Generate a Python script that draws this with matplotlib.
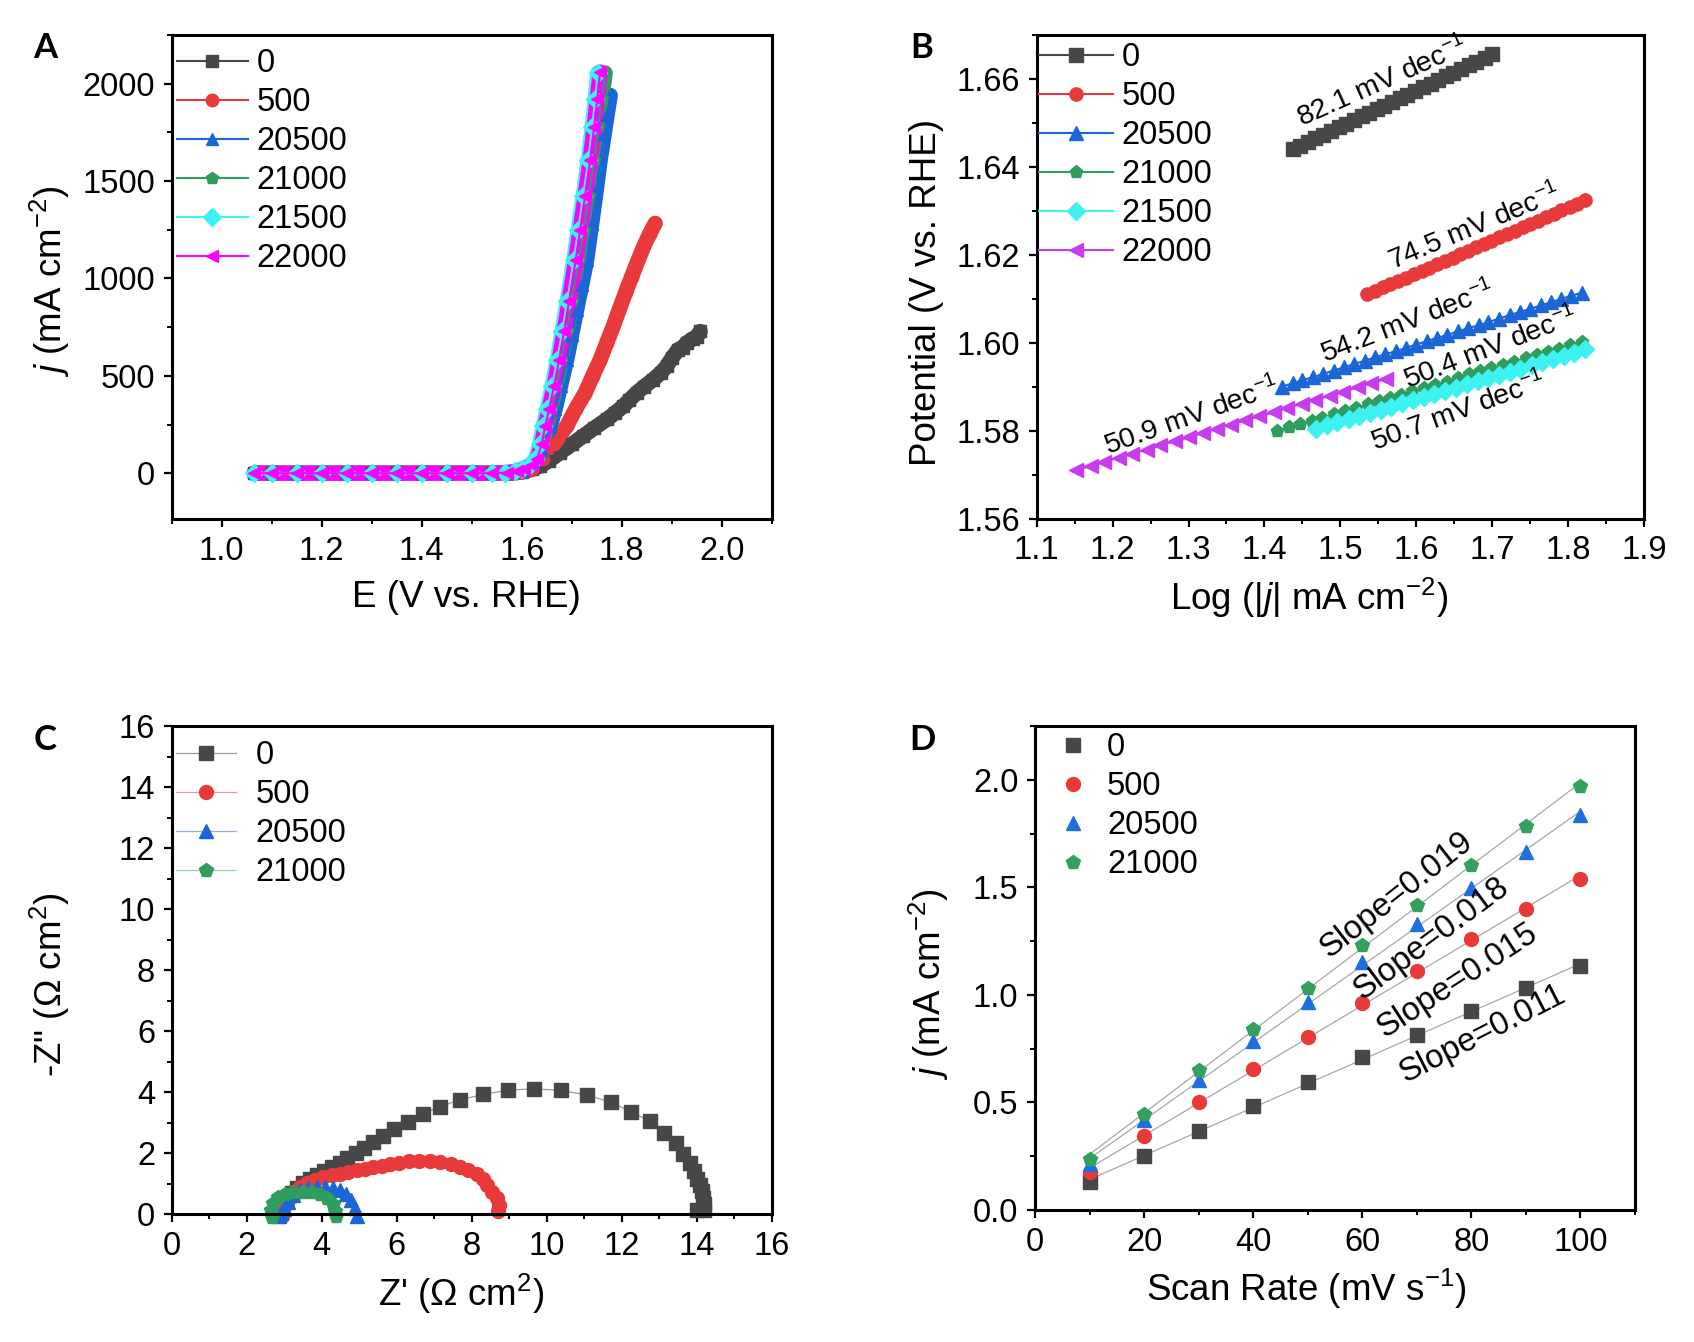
import numpy as np
import matplotlib
matplotlib.use('Agg')
import matplotlib.pyplot as plt
from matplotlib.ticker import MultipleLocator

plt.rcParams['font.family'] = ['Liberation Sans', 'DejaVu Sans']
plt.rcParams['mathtext.fontset'] = 'custom'
plt.rcParams['mathtext.rm'] = 'Liberation Sans'
plt.rcParams['mathtext.it'] = 'Liberation Sans:italic'
plt.rcParams['mathtext.bf'] = 'Liberation Sans:bold'

# ---------------- data ----------------
labels6 = ['0', '500', '20500', '21000', '21500', '22000']
labels4 = ['0', '500', '20500', '21000']

# Panel A : LSV curves (E in V vs RHE, j in mA cm-2)
flatE = [1.065, 1.10, 1.15, 1.20, 1.25, 1.30, 1.35, 1.40, 1.45, 1.50, 1.54]
flatJ = [0, 0, 0, 0, 0, 0, 0, 0, 0, 0, 0]

E_0 = [1.58, 1.60, 1.62, 1.637, 1.655, 1.677, 1.700, 1.723, 1.745, 1.770, 1.787, 1.803,
       1.815, 1.830, 1.845, 1.863, 1.878, 1.890, 1.900, 1.913, 1.922, 1.930, 1.942, 1.950, 1.957]
J_0 = [2, 8, 20, 37, 65, 106, 148, 191, 232, 276, 310, 344,
       375, 413, 445, 481, 515, 549, 590, 635, 645, 669, 690, 700, 728]
E_500 = [1.58, 1.60, 1.62, 1.643, 1.665, 1.690, 1.708, 1.727, 1.742, 1.757, 1.770, 1.783,
         1.795, 1.808, 1.820, 1.833, 1.845, 1.856, 1.867]
J_500 = [2, 5, 20, 72, 150, 242, 330, 413, 500, 583, 670, 754,
         840, 930, 1010, 1095, 1170, 1230, 1283]
E_20500 = [1.58, 1.60, 1.62, 1.64, 1.657, 1.667, 1.678, 1.690, 1.700, 1.710, 1.720, 1.730,
           1.740, 1.749, 1.757, 1.765, 1.771, 1.777]
J_20500 = [3, 12, 40, 120, 242, 330, 450, 583, 710, 840, 965, 1095,
           1280, 1450, 1607, 1740, 1840, 1940]
E_21000 = [1.573, 1.593, 1.608, 1.623, 1.634, 1.643, 1.650, 1.658, 1.669, 1.679, 1.690, 1.700,
           1.714, 1.724, 1.734, 1.745, 1.753, 1.760, 1.767]
J_21000 = [3, 10, 22, 40, 72, 150, 242, 330, 450, 583, 730, 885,
           1095, 1250, 1425, 1607, 1780, 1920, 2055]
E_21500 = [1.566, 1.586, 1.601, 1.616, 1.627, 1.636, 1.643, 1.651, 1.661, 1.671, 1.681, 1.691,
           1.704, 1.713, 1.723, 1.733, 1.741, 1.747, 1.752]
J_21500 = [3, 10, 22, 40, 72, 150, 242, 330, 450, 583, 730, 885,
           1095, 1250, 1425, 1607, 1780, 1920, 2055]
E_22000 = [1.57, 1.59, 1.605, 1.62, 1.631, 1.64, 1.647, 1.655, 1.665, 1.675, 1.685, 1.695,
           1.708, 1.717, 1.727, 1.737, 1.745, 1.751, 1.757]
J_22000 = [3, 10, 22, 40, 72, 150, 242, 330, 450, 583, 730, 885,
           1095, 1250, 1425, 1607, 1780, 1920, 2060]

# Panel B : Tafel plots (log j, potential)
logj_0 = [1.437, 1.447, 1.457, 1.467, 1.477, 1.488, 1.498, 1.508, 1.518, 1.528, 1.538, 1.548, 1.558, 1.568,
          1.578, 1.588, 1.598, 1.609, 1.619, 1.629, 1.639, 1.649, 1.659, 1.669, 1.679, 1.690, 1.700]
pot_0 = [1.6440, 1.6448, 1.6456, 1.6465, 1.6473, 1.6482, 1.6490, 1.6498, 1.6507, 1.6515, 1.6523, 1.6531,
         1.6539, 1.6548, 1.6556, 1.6564, 1.6572, 1.6581, 1.6589, 1.6598, 1.6606, 1.6614, 1.6622, 1.6631,
         1.6639, 1.6648, 1.6656]
logj_500 = [1.535, 1.545, 1.556, 1.566, 1.576, 1.586, 1.597, 1.607, 1.617, 1.627, 1.638, 1.648, 1.658, 1.668,
            1.679, 1.689, 1.699, 1.709, 1.720, 1.730, 1.740, 1.750, 1.761, 1.771, 1.781, 1.791, 1.802, 1.812, 1.822]
pot_500 = [1.6110, 1.6118, 1.6126, 1.6133, 1.6141, 1.6148, 1.6156, 1.6164, 1.6171, 1.6179, 1.6187, 1.6194,
           1.6202, 1.6209, 1.6217, 1.6225, 1.6232, 1.6240, 1.6248, 1.6255, 1.6263, 1.6270, 1.6278, 1.6286,
           1.6293, 1.6301, 1.6309, 1.6316, 1.6324]
logj_20500 = [1.423, 1.437, 1.450, 1.464, 1.477, 1.491, 1.505, 1.518, 1.532, 1.546, 1.559, 1.573, 1.586, 1.600,
              1.614, 1.627, 1.641, 1.655, 1.668, 1.682, 1.695, 1.709, 1.723, 1.736, 1.750, 1.764, 1.777, 1.791,
              1.804, 1.818]
pot_20500 = [1.5900, 1.5908, 1.5915, 1.5922, 1.5929, 1.5937, 1.5944, 1.5952, 1.5959, 1.5967, 1.5974, 1.5981,
             1.5988, 1.5996, 1.6004, 1.6011, 1.6018, 1.6026, 1.6033, 1.6040, 1.6047, 1.6055, 1.6063, 1.6070,
             1.6077, 1.6085, 1.6092, 1.6100, 1.6107, 1.6114]
logj_21000 = [1.417, 1.432, 1.447, 1.462, 1.476, 1.491, 1.506, 1.521, 1.536, 1.551, 1.566, 1.580, 1.595, 1.610,
              1.625, 1.640, 1.655, 1.670, 1.684, 1.699, 1.714, 1.729, 1.744, 1.759, 1.774, 1.788, 1.803, 1.818]
pot_21000 = [1.5800, 1.5808, 1.5815, 1.5823, 1.5830, 1.5837, 1.5845, 1.5852, 1.5860, 1.5868, 1.5875, 1.5882,
             1.5890, 1.5897, 1.5905, 1.5912, 1.5920, 1.5928, 1.5935, 1.5942, 1.5950, 1.5957, 1.5965, 1.5972,
             1.5980, 1.5987, 1.5995, 1.6002]
logj_21500 = [1.468, 1.482, 1.496, 1.511, 1.525, 1.539, 1.553, 1.567, 1.581, 1.596, 1.610, 1.624, 1.638, 1.652,
              1.667, 1.681, 1.695, 1.709, 1.723, 1.737, 1.752, 1.766, 1.780, 1.794, 1.808, 1.822]
pot_21500 = [1.5805, 1.5812, 1.5819, 1.5827, 1.5834, 1.5841, 1.5848, 1.5855, 1.5862, 1.5870, 1.5877, 1.5884,
             1.5891, 1.5898, 1.5906, 1.5913, 1.5920, 1.5927, 1.5934, 1.5941, 1.5949, 1.5956, 1.5963, 1.5970,
             1.5977, 1.5985]
logj_22000 = [1.152, 1.171, 1.189, 1.208, 1.226, 1.245, 1.263, 1.282, 1.300, 1.319, 1.338, 1.356, 1.375, 1.393,
              1.412, 1.430, 1.449, 1.467, 1.486, 1.504, 1.523, 1.541, 1.560]
pot_22000 = [1.5710, 1.5720, 1.5729, 1.5739, 1.5748, 1.5757, 1.5767, 1.5776, 1.5785, 1.5795, 1.5805, 1.5814,
             1.5824, 1.5833, 1.5842, 1.5852, 1.5861, 1.5870, 1.5880, 1.5889, 1.5899, 1.5908, 1.5918]
tafel_text = ['82.1 mV dec$^{-1}$', '74.5 mV dec$^{-1}$', '54.2 mV dec$^{-1}$',
              '50.4 mV dec$^{-1}$', '50.7 mV dec$^{-1}$', '50.9 mV dec$^{-1}$']

# Panel C : Nyquist plots (Z', -Z'')
zr_0 = [3.20, 3.33, 3.51, 3.69, 3.87, 4.07, 4.27, 4.49, 4.68, 4.91, 5.13, 5.38, 5.64, 5.94, 6.29, 6.69,
        7.15, 7.69, 8.31, 8.98, 9.67, 10.37, 11.07, 11.71, 12.25, 12.76, 13.14, 13.44, 13.64, 13.82,
        13.93, 14.02, 14.09, 14.13, 14.16, 14.19, 14.20, 14.02]
zi_0 = [0.69, 0.85, 1.02, 1.16, 1.29, 1.43, 1.56, 1.69, 1.85, 2.00, 2.17, 2.36, 2.57, 2.79, 3.03, 3.28,
        3.53, 3.75, 3.93, 4.07, 4.11, 4.06, 3.91, 3.67, 3.36, 3.05, 2.67, 2.33, 1.99, 1.69,
        1.42, 1.15, 0.95, 0.75, 0.54, 0.34, 0.14, 0.14]
zr_500 = [2.93, 2.98, 3.07, 3.15, 3.27, 3.42, 3.60, 3.82, 4.04, 4.27, 4.49, 4.71, 4.93, 5.15, 5.38, 5.60,
          5.82, 6.07, 6.33, 6.60, 6.89, 7.15, 7.44, 7.69, 7.91, 8.13, 8.29, 8.42, 8.53, 8.67, 8.74, 8.71]
zi_500 = [-0.05, 0.09, 0.36, 0.58, 0.74, 0.89, 1.02, 1.12, 1.21, 1.28, 1.33, 1.39, 1.44, 1.49, 1.54, 1.59,
          1.64, 1.69, 1.74, 1.76, 1.75, 1.71, 1.65, 1.56, 1.45, 1.32, 1.16, 0.96, 0.74, 0.52, 0.30, 0.12]
zr_20500 = [2.86, 2.92, 3.00, 3.11, 3.24, 3.42, 3.64, 3.87, 4.09, 4.29, 4.49, 4.65, 4.78, 4.89, 4.93]
zi_20500 = [-0.05, 0.05, 0.17, 0.41, 0.63, 0.80, 0.87, 0.90, 0.90, 0.87, 0.80, 0.66, 0.47, 0.20, -0.05]
zr_21000 = [2.67, 2.64, 2.71, 2.84, 3.02, 3.24, 3.51, 3.73, 3.95, 4.15, 4.29, 4.35, 4.37]
zi_21000 = [-0.08, 0.14, 0.38, 0.56, 0.67, 0.72, 0.74, 0.72, 0.66, 0.53, 0.35, 0.12, -0.05]

# Panel D : double-layer capacitance
scan_rate = [10, 20, 30, 40, 50, 60, 70, 80, 90, 100]
cdl_0 = [0.128, 0.251, 0.368, 0.482, 0.594, 0.709, 0.815, 0.924, 1.030, 1.133]
cdl_500 = [0.177, 0.343, 0.501, 0.657, 0.806, 0.962, 1.110, 1.261, 1.400, 1.537]
cdl_20500 = [0.213, 0.419, 0.604, 0.785, 0.968, 1.152, 1.328, 1.495, 1.663, 1.838]
cdl_21000 = [0.238, 0.448, 0.651, 0.842, 1.032, 1.232, 1.419, 1.604, 1.787, 1.971]
slope_text = ['Slope=0.019', 'Slope=0.018', 'Slope=0.015', 'Slope=0.011']

# ---------------- styles ----------------
gray, red, blue, green, cyan = '#474747', '#E83A3A', '#1A66D6', '#2E9D5E', '#3DF2F2'
magA, magB = '#FF00FF', '#C83CF0'
markers6 = ['s', 'o', '^', 'p', 'D', '<']

FS = 23.5      # tick / legend font size
LFS = 26.5     # axis label font size
W, H = 1694, 1342
fig = plt.figure(figsize=(W / 100, H / 100), dpi=100)


def ax_at(l, r, t, b):
    return fig.add_axes([l / W, 1 - b / H, (r - l) / W, (b - t) / H])


def style(ax):
    for s in ax.spines.values():
        s.set_linewidth(2.2)
    ax.tick_params(which='major', direction='out', length=6, width=1.6, labelsize=FS, pad=6,
                   top=False, right=False)
    ax.tick_params(which='minor', direction='out', length=3.5, width=1.4, top=False, right=False)


def labels(ax, xl, yl, xpos, ypos):
    ax.set_xlabel(xl, fontsize=LFS, va='center')
    ax.set_ylabel(yl, fontsize=LFS, va='center')
    ax.xaxis.set_label_coords(*xpos)
    ax.yaxis.set_label_coords(*ypos)


def legend(ax, x, y, **kw):
    opts = dict(loc='upper left', bbox_to_anchor=(x / W, 1 - y / H), bbox_transform=fig.transFigure,
                frameon=False, borderpad=0, borderaxespad=0, fontsize=FS, labelspacing=0.245)
    opts.update(kw)
    return ax.legend(**opts)


# ---------------- Panel A ----------------
axA = ax_at(171.7, 771.7, 35, 519)
style(axA)
seriesA = [(E_0, J_0), (E_500, J_500), (E_20500, J_20500), (E_21000, J_21000), (E_21500, J_21500),
           (E_22000, J_22000)]
colA = [gray, red, blue, green, cyan, magA]
for (e, j), c, m, lab in zip(seriesA, colA, markers6, labels6):
    ee = flatE + e
    jj = flatJ + j
    axA.plot(ee, jj, color=c, lw=11, solid_capstyle='round', solid_joinstyle='round', zorder=2)
    axA.plot(ee, jj, color=c, lw=1.5, marker=m, ms=9, mfc=c, mec=c, label=lab, zorder=3)
axA.set_xlim(0.9, 2.1)
axA.set_ylim(-235, 2250)
axA.xaxis.set_major_locator(MultipleLocator(0.2))
axA.xaxis.set_minor_locator(MultipleLocator(0.1))
axA.yaxis.set_major_locator(MultipleLocator(500))
axA.yaxis.set_minor_locator(MultipleLocator(250))
axA.xaxis.set_major_formatter(plt.FuncFormatter(lambda v, p: f'{v:.1f}'))
labels(axA, 'E (V vs. RHE)', r'$\mathit{j}$ (mA cm$^{-2}$)', (0.491, -0.162), (-0.203, 0.491))
legend(axA, 176.7, 48.5, handlelength=2.18, handletextpad=0.27)

# ---------------- Panel B ----------------
axB = ax_at(1036.7, 1644, 35, 518.7)
style(axB)
seriesB = [(logj_0, pot_0), (logj_500, pot_500), (logj_20500, pot_20500), (logj_21000, pot_21000),
           (logj_21500, pot_21500), (logj_22000, pot_22000)]
colB = [gray, red, blue, green, cyan, magB]
for (x, y), c, m, lab in zip(seriesB, colB, markers6, labels6):
    axB.plot(x, y, color=c, lw=1.5, marker=m, ms=9.5, mfc=c, mec=c, label=lab)
axB.set_xlim(1.1, 1.9)
axB.set_ylim(1.56, 1.67)
axB.xaxis.set_major_locator(MultipleLocator(0.1))
axB.xaxis.set_minor_locator(MultipleLocator(0.05))
axB.yaxis.set_major_locator(MultipleLocator(0.02))
axB.yaxis.set_minor_locator(MultipleLocator(0.01))
axB.yaxis.set_major_formatter(plt.FuncFormatter(lambda v, p: f'{v:.2f}'))
labels(axB, r'Log (|$\mathit{j}$| mA cm$^{-2}$)', 'Potential (V vs. RHE)', (0.449, -0.163), (-0.181, 0.467))
legend(axB, 1039, 42, handlelength=2.27, handletextpad=0.25)
tafel_pos = [(1.555, 1.6593, 24), (1.677, 1.6263, 22.5), (1.5895, 1.6046, 21),
             (1.698, 1.5988, 21), (1.656, 1.5843, 20), (1.304, 1.5832, 19.5)]
for (x, y, r), t in zip(tafel_pos, tafel_text):
    axB.text(x, y, t, fontsize=20.5, rotation=r, ha='center', va='center', rotation_mode='anchor')

# ---------------- Panel C ----------------
axC = ax_at(171.7, 771.7, 726, 1214.3)
style(axC)
seriesC = [(zr_0, zi_0), (zr_500, zi_500), (zr_20500, zi_20500), (zr_21000, zi_21000)]
colC = [gray, red, blue, green]
lineC = ['#9a9a9a', '#e89a9a', '#9ab0d0', '#9ccfb0']
for (x, y), c, lc, m, lab in zip(seriesC, colC, lineC, markers6, labels4):
    axC.plot(x, y, color=lc, lw=0.9, marker=m, ms=10, mfc=c, mec=c, label=lab, clip_on=False)
axC.set_xlim(0, 16)
axC.set_ylim(0, 16)
axC.xaxis.set_major_locator(MultipleLocator(2))
axC.xaxis.set_minor_locator(MultipleLocator(1))
axC.yaxis.set_major_locator(MultipleLocator(2))
axC.yaxis.set_minor_locator(MultipleLocator(1))
labels(axC, "Z' (Ω cm$^{2}$)", '-Z" (Ω cm$^{2}$)', (0.483, -0.164), (-0.203, 0.470))
legend(axC, 176, 740, handlelength=1.83, handletextpad=0.6)

# ---------------- Panel D ----------------
axD = ax_at(1035, 1635, 726, 1210)
style(axD)
seriesD = [cdl_0, cdl_500, cdl_20500, cdl_21000]
colD = [gray, red, '#1F6FE0', '#33A060']
for y, c, m, lab in zip(seriesD, colD, markers6, labels4):
    p = np.polyfit(scan_rate, y, 1)
    axD.plot(scan_rate, np.polyval(p, scan_rate), color='#a8a8a8', lw=0.9, zorder=2)
    axD.plot(scan_rate, y, ls='none', marker=m, ms=10, mfc=c, mec=c, label=lab, zorder=3)
axD.set_xlim(0, 110)
axD.set_ylim(0, 2.25)
axD.xaxis.set_major_locator(MultipleLocator(20))
axD.xaxis.set_minor_locator(MultipleLocator(10))
axD.yaxis.set_major_locator(MultipleLocator(0.5))
axD.yaxis.set_minor_locator(MultipleLocator(0.25))
axD.yaxis.set_major_formatter(plt.FuncFormatter(lambda v, p: f'{v:.1f}'))
labels(axD, 'Scan Rate (mV s$^{-1}$)', r'$\mathit{j}$ (mA cm$^{-2}$)', (0.452, -0.163), (-0.1765, 0.4665))
legend(axD, 1056.7, 732.5, handlelength=1.0, handletextpad=0.54)
slope_pos = [(66.3, 1.465, 38), (72.7, 1.262, 36.5), (77.4, 1.065, 33), (82.0, 0.818, 27)]
for (x, y, r), t in zip(slope_pos, slope_text):
    axD.text(x, y, t, fontsize=23.5, rotation=r, ha='center', va='center', rotation_mode='anchor')

# ---------------- panel letters ----------------
for t, x, y in [('A', 45, 48), ('B', 922, 48), ('C', 45, 740), ('D', 922, 740)]:
    fig.text(x / W, 1 - y / H, t, fontsize=25, fontweight='bold', family=['Lato', 'DejaVu Sans'],
             ha='center', va='center')

fig.savefig('out.png', dpi=100)
